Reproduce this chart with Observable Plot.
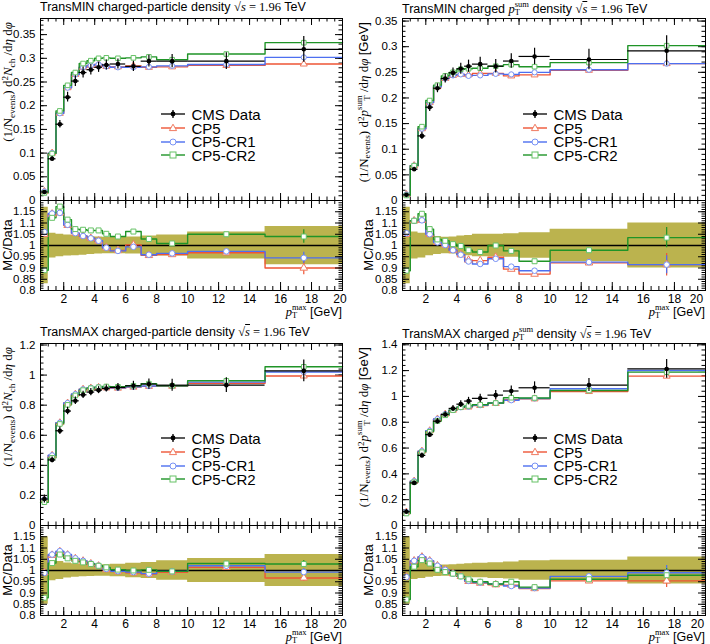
<!DOCTYPE html>
<html>
<head>
<meta charset="UTF-8">
<title>Transverse region densities, 1.96 TeV</title>
<script src="https://cdn.jsdelivr.net/npm/d3@7"></script>
<script src="https://cdn.jsdelivr.net/npm/@observablehq/plot@0.6"></script>
<style>
  body { margin: 0; background: white; }
  #chart { position: relative; width: 710px; height: 644px; overflow: hidden; background: white;
           font-family: "Liberation Sans", Arial, sans-serif; color: black; }
  #chart svg { position: absolute; left: 0; top: 0; overflow: visible; }
  .txt { position: absolute; white-space: nowrap; }
  .m { font-family: "Liberation Serif", "DejaVu Serif", serif; }
  .ov { font-style: italic; text-decoration: overline; }
  .ss { display: inline-block; vertical-align: -0.3em; font-size: 0.68em; line-height: 0.95; }
  .ss span { display: block; }
  sub { font-size: 0.7em; vertical-align: -0.3em; line-height: 0; }
  sup { font-size: 0.7em; vertical-align: 0.45em; line-height: 0; }
  .rot { transform-origin: 0 0; transform: rotate(-90deg); }
  .leg { position: absolute; display: flex; align-items: center; height: 13px; line-height: 13px; font-size: 15px; white-space: nowrap; }
  .leg svg { position: static !important; margin-right: 6.5px; }
</style>
</head>
<body>
<div id="chart"></div>
<script>
// bins in pT max [GeV]
const edges = [0.5, 1, 1.5, 2, 2.5, 3, 3.5, 4, 4.5, 5, 6, 7, 8, 10, 15, 20];
const centers = [0.75, 1.25, 1.75, 2.25, 2.75, 3.25, 3.75, 4.25, 4.75, 5.5, 6.5, 7.5, 9, 12.5, 17.5];

// TransMIN charged-particle density
const minNchData = [0.018, 0.088, 0.161, 0.218, 0.252, 0.270, 0.276, 0.281, 0.286, 0.288, 0.283, 0.294, 0.294, 0.294, 0.319];
const minNchCP5 = [0.019, 0.100, 0.184, 0.238, 0.266, 0.281, 0.285, 0.287, 0.283, 0.282, 0.284, 0.281, 0.282, 0.285, 0.288];
const minNchCR1 = [0.019, 0.100, 0.184, 0.238, 0.266, 0.281, 0.285, 0.287, 0.283, 0.281, 0.281, 0.282, 0.284, 0.287, 0.302];
const minNchCR2 = [0.016, 0.099, 0.189, 0.243, 0.270, 0.289, 0.295, 0.300, 0.301, 0.300, 0.301, 0.303, 0.297, 0.309, 0.333];
const minNchRatioCP5 = [1.05, 1.14, 1.145, 1.09, 1.055, 1.042, 1.032, 1.02, 0.99, 0.978, 1.003, 0.956, 0.96, 0.968, 0.90];
const minNchRatioCR1 = [1.06, 1.142, 1.145, 1.092, 1.055, 1.042, 1.032, 1.021, 0.99, 0.976, 0.994, 0.959, 0.965, 0.974, 0.945];
const minNchRatioCR2 = [0.89, 1.123, 1.173, 1.115, 1.073, 1.07, 1.067, 1.067, 1.052, 1.04, 1.062, 1.029, 1.009, 1.05, 1.04];
const minNchUnc = [0.17, 0.055, 0.05, 0.047, 0.045, 0.043, 0.04, 0.038, 0.037, 0.037, 0.038, 0.042, 0.047, 0.06, 0.085];
const minNchMcErr = [0.03, 0.025, 0.03]; // last bin, CP5 / CR1 / CR2

// TransMIN charged pT sum density
const minPtData = [0.011, 0.061, 0.126, 0.182, 0.219, 0.238, 0.249, 0.257, 0.262, 0.266, 0.262, 0.272, 0.281, 0.275, 0.292];
const minPtCP5 = [0.0116, 0.068, 0.140, 0.191, 0.222, 0.238, 0.244, 0.246, 0.245, 0.248, 0.248, 0.243, 0.245, 0.254, 0.267];
const minPtCR1 = [0.0116, 0.068, 0.140, 0.191, 0.222, 0.238, 0.244, 0.246, 0.243, 0.244, 0.247, 0.246, 0.250, 0.255, 0.267];
const minPtCR2 = [0.0098, 0.068, 0.144, 0.195, 0.225, 0.243, 0.250, 0.256, 0.257, 0.258, 0.262, 0.265, 0.261, 0.269, 0.302];
const minPtRatioCP5 = [1.05, 1.11, 1.112, 1.05, 1.014, 1.002, 0.979, 0.959, 0.935, 0.933, 0.948, 0.895, 0.873, 0.923, 0.915];
const minPtRatioCR1 = [1.055, 1.11, 1.112, 1.05, 1.014, 1.002, 0.979, 0.959, 0.929, 0.918, 0.941, 0.906, 0.888, 0.926, 0.915];
const minPtRatioCR2 = [0.888, 1.11, 1.141, 1.073, 1.027, 1.021, 1.006, 0.998, 0.979, 0.971, 1.0, 0.976, 0.93, 0.979, 1.035];
const minPtUnc = [0.17, 0.06, 0.055, 0.045, 0.04, 0.037, 0.038, 0.042, 0.045, 0.05, 0.05, 0.052, 0.057, 0.072, 0.1];
const minPtMcErr = [0.05, 0.04, 0.045];

// TransMAX charged-particle density
const maxNchData = [0.176, 0.436, 0.630, 0.761, 0.829, 0.869, 0.887, 0.900, 0.911, 0.918, 0.929, 0.940, 0.933, 0.933, 1.028];
const maxNchCP5 = [0.174, 0.466, 0.683, 0.814, 0.873, 0.906, 0.914, 0.918, 0.915, 0.913, 0.920, 0.925, 0.926, 0.946, 0.994];
const maxNchCR1 = [0.174, 0.467, 0.684, 0.815, 0.874, 0.906, 0.915, 0.919, 0.917, 0.915, 0.922, 0.927, 0.929, 0.953, 1.021];
const maxNchCR2 = [0.155, 0.450, 0.675, 0.802, 0.865, 0.900, 0.913, 0.919, 0.924, 0.922, 0.929, 0.943, 0.929, 0.962, 1.055];
const maxNchRatioCP5 = [0.99, 1.068, 1.084, 1.069, 1.053, 1.042, 1.03, 1.02, 1.004, 0.995, 0.99, 0.984, 0.992, 1.014, 0.967];
const maxNchRatioCR1 = [0.989, 1.071, 1.086, 1.071, 1.054, 1.043, 1.031, 1.021, 1.007, 0.997, 0.993, 0.986, 0.996, 1.021, 0.993];
const maxNchRatioCR2 = [0.879, 1.033, 1.071, 1.054, 1.043, 1.036, 1.029, 1.021, 1.014, 1.004, 1.0, 1.003, 0.996, 1.031, 1.029];
const maxNchUnc = [0.15, 0.045, 0.04, 0.033, 0.03, 0.028, 0.027, 0.026, 0.026, 0.028, 0.032, 0.036, 0.043, 0.053, 0.071];
const maxNchMcErr = [0.015, 0.015, 0.015];

// TransMAX charged pT sum density
const maxPtData = [0.107, 0.330, 0.543, 0.704, 0.808, 0.860, 0.907, 0.940, 0.964, 0.985, 1.010, 1.042, 1.067, 1.088, 1.213];
const maxPtCP5 = [0.104, 0.344, 0.576, 0.734, 0.825, 0.863, 0.894, 0.916, 0.918, 0.930, 0.946, 0.974, 0.981, 1.038, 1.157];
const maxPtCR1 = [0.104, 0.344, 0.576, 0.734, 0.825, 0.863, 0.894, 0.916, 0.920, 0.932, 0.949, 0.970, 0.984, 1.060, 1.201];
const maxPtCR2 = [0.093, 0.336, 0.568, 0.726, 0.810, 0.854, 0.894, 0.916, 0.926, 0.936, 0.949, 0.990, 0.988, 1.046, 1.188];
const maxPtRatioCP5 = [0.971, 1.043, 1.06, 1.043, 1.021, 1.003, 0.986, 0.974, 0.952, 0.944, 0.937, 0.935, 0.92, 0.954, 0.954];
const maxPtRatioCR1 = [0.971, 1.043, 1.06, 1.043, 1.021, 1.003, 0.986, 0.974, 0.954, 0.946, 0.94, 0.931, 0.922, 0.974, 0.99];
const maxPtRatioCR2 = [0.871, 1.017, 1.046, 1.031, 1.003, 0.993, 0.986, 0.974, 0.961, 0.95, 0.94, 0.95, 0.926, 0.961, 0.979];
const maxPtUnc = [0.15, 0.04, 0.035, 0.03, 0.027, 0.025, 0.026, 0.028, 0.03, 0.032, 0.035, 0.038, 0.043, 0.046, 0.06];
const maxPtMcErr = [0.03, 0.032, 0.03];

// axis ticks
const xMajor = [2, 4, 6, 8, 10, 12, 14, 16, 18, 20];
const xMinor = d3.range(0.5, 20.01, 0.5);
const minYTicks = [0, 0.05, 0.1, 0.15, 0.2, 0.25, 0.3, 0.35];
const maxNchYTicks = [0, 0.2, 0.4, 0.6, 0.8, 1, 1.2];
const maxPtYTicks = [0, 0.2, 0.4, 0.6, 0.8, 1, 1.2, 1.4];
const ratioTicks = [0.8, 0.85, 0.9, 0.95, 1, 1.05, 1.1, 1.15, 1.2];
const ratioLabels = [0.8, 0.85, 0.9, 0.95, 1, 1.05, 1.1, 1.15];

const models = [
  {name: "CP5", line: "#ee5536", mark: "#f07a60", symbol: "triangle"},
  {name: "CP5-CR1", line: "#4d6ff0", mark: "#7892f5", symbol: "circle"},
  {name: "CP5-CR2", line: "#1f9427", mark: "#66c266", symbol: "square"}
];
const bandColor = "#bbb34e";

const ptsum = '<i>p</i><span class="ss"><span>sum</span><span>T</span></span>';
const sqrts = '<span class="m">&#8730;<span class="ov">s</span> = 1.96</span> TeV';
const nchTitle = '(1/N<sub>events</sub>) d<sup>2</sup><i>N</i><sub>ch</sub> /d<i>η</i> d<i>φ</i>';
const ptTitle = '(1/N<sub>events</sub>) d<sup>2</sup>' + ptsum + ' /d<i>η</i> d<i>φ</i> <span style="font-family:Liberation Sans,Arial,sans-serif">[GeV]</span>';

const panels = [
  {title: "TransMIN charged-particle density " + sqrts, ytitle: nchTitle,
   fx: 40, fw: 302, my: 18, mh: 182, ry: 200, rh: 90, ydom: [0, 0.384], yTicks: minYTicks, yMinorStep: 0.01,
   data: minNchData, mc: [minNchCP5, minNchCR1, minNchCR2], ratio: [minNchRatioCP5, minNchRatioCR1, minNchRatioCR2],
   unc: minNchUnc, mcErr: minNchMcErr,
   legX: 161, legY: [114, 128, 141.5, 155], ytX: 0, mcX: 0, lastDx: -2.5},
  {title: "TransMIN charged <span class='m'>" + ptsum + "</span> density " + sqrts, ytitle: ptTitle,
   fx: 402, fw: 303, my: 18, mh: 182, ry: 200, rh: 90, ydom: [0, 0.355], yTicks: minYTicks, yMinorStep: 0.01,
   data: minPtData, mc: [minPtCP5, minPtCR1, minPtCR2], ratio: [minPtRatioCP5, minPtRatioCR1, minPtRatioCR2],
   unc: minPtUnc, mcErr: minPtMcErr,
   legX: 523, legY: [114, 128, 141.5, 155], ytX: 355, mcX: 361, lastDx: -9},
  {title: "TransMAX charged-particle density " + sqrts, ytitle: nchTitle,
   fx: 40, fw: 302, my: 343, mh: 182, ry: 525, rh: 90, ydom: [0, 1.21], yTicks: maxNchYTicks, yMinorStep: 0.04,
   data: maxNchData, mc: [maxNchCP5, maxNchCR1, maxNchCR2], ratio: [maxNchRatioCP5, maxNchRatioCR1, maxNchRatioCR2],
   unc: maxNchUnc, mcErr: maxNchMcErr,
   legX: 161, legY: [438, 452, 465.5, 479], ytX: 0, mcX: 0, lastDx: -2.5},
  {title: "TransMAX charged <span class='m'>" + ptsum + "</span> density " + sqrts, ytitle: ptTitle,
   fx: 402, fw: 303, my: 343, mh: 182, ry: 525, rh: 90, ydom: [0, 1.41], yTicks: maxPtYTicks, yMinorStep: 0.04,
   data: maxPtData, mc: [maxPtCP5, maxPtCR1, maxPtCR2], ratio: [maxPtRatioCP5, maxPtRatioCR1, maxPtRatioCR2],
   unc: maxPtUnc, mcErr: maxPtMcErr,
   legX: 523, legY: [438, 452, 465.5, 479], ytX: 355, mcX: 361, lastDx: -8}
];

const bins = d3.range(centers.length);
const last = centers.length - 1;
const fmt = d => String(+d.toFixed(2));
const stepPts = vals => edges.map((x, i) => ({x, y: vals[Math.min(i, vals.length - 1)]}));

// inward ticks on all four sides of a frame
function frameTicks(xMaj, xMin, yMaj, yMin, fw, fh, lx, ly) {
  const m = [];
  for (const [vals, len] of [[xMaj, lx], [xMin, lx / 2]]) {
    m.push(Plot.tickX(vals, {insetBottom: fh - len, stroke: "black"}));
    m.push(Plot.tickX(vals, {insetTop: fh - len, stroke: "black"}));
  }
  for (const [vals, len] of [[yMaj, ly], [yMin, ly / 2]]) {
    m.push(Plot.tickY(vals, {insetRight: fw - len, stroke: "black"}));
    m.push(Plot.tickY(vals, {insetLeft: fw - len, stroke: "black"}));
  }
  return m;
}

function framePlot(p, top, h, ydom, marks) {
  return Plot.plot({
    width: 710, height: 644,
    marginLeft: p.fx, marginRight: 710 - p.fx - p.fw,
    marginTop: top, marginBottom: 644 - top - h,
    x: {domain: [0.5, 20], axis: null},
    y: {domain: ydom, axis: null},
    style: {overflow: "visible", background: "transparent", fontFamily: "Liberation Sans, Arial, sans-serif", fontSize: "11.5px", color: "black"},
    marks
  });
}

function mainPlot(p) {
  const yMinor = d3.range(0, p.ydom[1], p.yMinorStep);
  const marks = [...frameTicks(xMajor, xMinor, p.yTicks, yMinor, p.fw, p.mh, 7, 7)];
  marks.push(Plot.axisY({ticks: p.yTicks, tickSize: 0, tickPadding: 5, tickFormat: fmt, fontSize: 11.5, label: null}));
  p.mc.forEach((vals, k) => marks.push(Plot.line(stepPts(vals), {x: "x", y: "y", curve: "step-after", stroke: models[k].line, strokeWidth: 1.4})));
  p.mc.forEach((vals, k) => marks.push(Plot.dot(bins, {x: i => centers[i], y: i => vals[i], symbol: models[k].symbol, r: 2.6, fill: "white", stroke: models[k].mark, strokeWidth: 1})));
  marks.push(Plot.ruleY(bins, {y: i => p.data[i], x1: i => edges[i], x2: i => edges[i + 1], stroke: "black", strokeWidth: 1.2}));
  marks.push(Plot.ruleX(bins, {x: i => centers[i], y1: i => p.data[i] * (1 - p.unc[i]), y2: i => p.data[i] * (1 + p.unc[i]), stroke: "black", strokeWidth: 1.2}));
  marks.push(Plot.dot(bins, {x: i => centers[i], y: i => p.data[i], r: 2.3, fill: "black"}));
  marks.push(Plot.frame({stroke: "black"}));
  return framePlot(p, p.my, p.mh, p.ydom, marks);
}

function ratioPlot(p) {
  const band = stepPts(p.unc).map(d => ({x: d.x, lo: 1 - d.y, hi: 1 + d.y}));
  const marks = [
    Plot.areaY(band, {x: "x", y1: "lo", y2: "hi", curve: "step-after", fill: bandColor, clip: true}),
    Plot.ruleY([1], {stroke: "black", strokeWidth: 1.4})
  ];
  p.ratio.forEach((vals, k) => marks.push(Plot.line(stepPts(vals), {x: "x", y: "y", curve: "step-after", stroke: models[k].line, strokeWidth: 1.4, clip: true})));
  p.ratio.forEach((vals, k) => marks.push(Plot.ruleX([last], {x: i => centers[i], y1: i => vals[i] - p.mcErr[k], y2: i => vals[i] + p.mcErr[k], stroke: models[k].line, strokeWidth: 1.2})));
  p.ratio.forEach((vals, k) => marks.push(Plot.dot(bins, {x: i => centers[i], y: i => vals[i], symbol: models[k].symbol, r: 2.8, fill: "white", stroke: models[k].mark, strokeWidth: 1})));
  marks.push(...frameTicks(xMajor, xMinor, ratioTicks, d3.range(0.8, 1.2, 0.01), p.fw, p.rh, 8, 7));
  marks.push(Plot.axisY({ticks: ratioLabels, tickSize: 0, tickPadding: 5, tickFormat: fmt, fontSize: 11.5, label: null}));
  marks.push(Plot.axisX({ticks: xMajor.slice(0, -1), tickSize: 0, tickPadding: 4, label: null, fontSize: 12}));
  marks.push(Plot.axisX({ticks: xMajor.slice(-1), tickSize: 0, tickPadding: 4, label: null, fontSize: 12, dx: p.lastDx}));
  marks.push(Plot.frame({stroke: "black"}));
  return framePlot(p, p.ry, p.rh, [0.8, 1.2], marks);
}

const chart = document.getElementById("chart");
function addText(html, css, cls) {
  const d = document.createElement("div");
  d.className = "txt " + (cls || "");
  d.innerHTML = html;
  Object.assign(d.style, css);
  chart.append(d);
}

function swatch(k) {
  if (k < 0) {
    return '<svg width="24" height="14"><line x1="0" x2="24" y1="7" y2="7" stroke="black" stroke-width="1.3"/>' +
      '<line x1="12" x2="12" y1="3" y2="11" stroke="black" stroke-width="1.3"/><circle cx="12" cy="7" r="2.4" fill="black"/></svg>';
  }
  const m = models[k];
  const shape = m.symbol === "triangle" ? '<path d="M12,3.2L15.6,9.6L8.4,9.6Z"/>'
    : m.symbol === "circle" ? '<circle cx="12" cy="7" r="3"/>' : '<rect x="9" y="4" width="6" height="6"/>';
  return '<svg width="24" height="14"><line x1="0" x2="24" y1="7" y2="7" stroke="' + m.line + '" stroke-width="1.4"/>' +
    '<g fill="white" stroke="' + m.mark + '" stroke-width="1">' + shape + '</g></svg>';
}

panels.forEach(p => {
  chart.append(mainPlot(p));
  chart.append(ratioPlot(p));
  const right = p.fx + p.fw;
  addText(p.title, {left: p.fx + "px", top: (p.my - 18) + "px", fontSize: "12.5px", lineHeight: "15px"});
  addText(p.ytitle, {left: p.ytX + "px", top: (p.my + 4 + 210) + "px", width: "210px", textAlign: "right",
    fontSize: "13px", lineHeight: "16px"}, "rot m");
  addText("MC/Data", {left: p.mcX + "px", top: (p.ry + p.rh) + "px", width: p.rh + "px", textAlign: "center",
    fontSize: "13px", lineHeight: "16px"}, "rot");
  addText('<span class="m">' + '<i>p</i><span class="ss"><span>max</span><span>T</span></span></span> [GeV]',
    {right: (710 - right) + "px", top: (p.ry + p.rh + 13) + "px", fontSize: "12.5px", lineHeight: "15px"});
  const names = ["CMS Data", ...models.map(m => m.name)];
  names.forEach((name, k) => {
    const d = document.createElement("div");
    d.className = "leg";
    d.style.left = p.legX + "px";
    d.style.top = (p.legY[k] - 6.5) + "px";
    d.innerHTML = swatch(k - 1) + "<span>" + name + "</span>";
    chart.append(d);
  });
});
</script>
</body>
</html>
